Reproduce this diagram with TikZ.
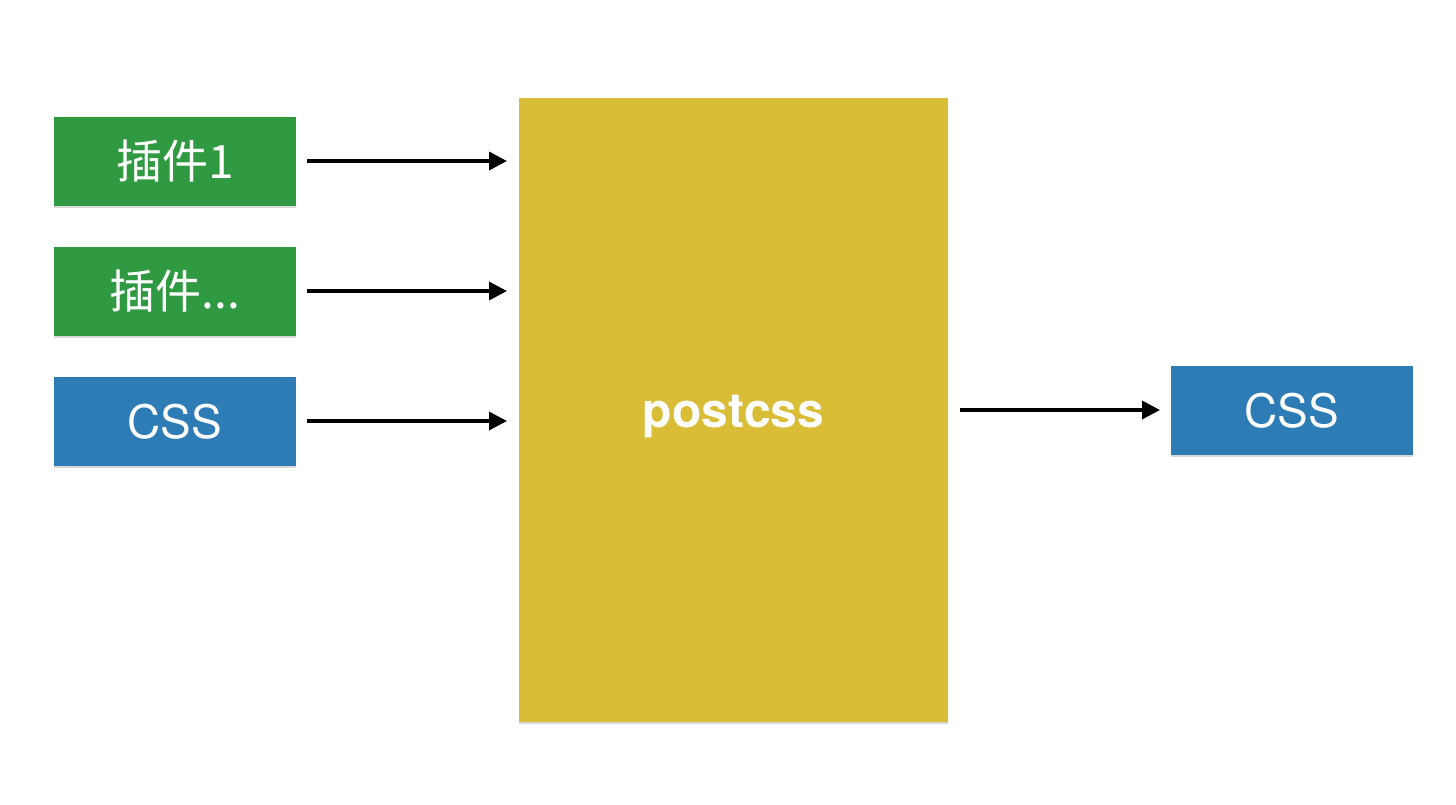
\documentclass[tikz,border=0pt]{standalone}
\usepackage{fontspec}
\setmainfont{TeX Gyre Heros}
\newfontfamily\cjk{Noto Sans CJK SC}
\usetikzlibrary{shadows,arrows.meta}
\definecolor{pgreen}{HTML}{2F9A42}
\definecolor{pblue}{HTML}{2E7CB5}
\definecolor{pyellow}{HTML}{DABD37}
\begin{document}
\begin{tikzpicture}[x=1pt,y=-1pt,
  box/.style={minimum width=242pt,minimum height=89pt,inner sep=0pt,text=white,
    drop shadow={shadow xshift=0pt,shadow yshift=-2pt,opacity=0.25,fill=black!60}},
  plug/.style={box,fill=pgreen},
  cssbox/.style={box,fill=pblue,font=\fontsize{46}{50}\selectfont},
  arr/.style={line width=3.5pt,-{Triangle[length=18pt,width=18pt]}}]
\useasboundingbox[fill=white] (0,0) rectangle (1456,804);
\node[fill=pyellow,minimum width=429pt,minimum height=624pt,inner sep=0pt,
  drop shadow={shadow xshift=0pt,shadow yshift=-2pt,opacity=0.25,fill=black!60},
  text=white,font=\fontsize{48}{52}\selectfont\bfseries] (pc) at (733.5,410) {\raisebox{-17pt}[0pt][0pt]{postcss}};
\node[plug] (p1) at (175,161.5) {\cjk\fontsize{46}{50}\selectfont 插件1};
\node[plug] (p2) at (175,291) {\cjk\fontsize{46}{50}\selectfont 插件...};
\node[cssbox] (c1) at (175,421.5) {CSS};
\node[cssbox] (c2) at (1292,410.5) {CSS};
\coordinate (a1) at (307,161);
\coordinate (a2) at (307,291);
\coordinate (a3) at (307,421);
\draw[arr] (a1) -- (a1 -| 507,0);
\draw[arr] (a2) -- (a2 -| 507,0);
\draw[arr] (a3) -- (a3 -| 507,0);
\coordinate (b1) at (960,410);
\coordinate (b2) at (1160,410);
\draw[arr] (b1) -- (b2);
\end{tikzpicture}
\end{document}
